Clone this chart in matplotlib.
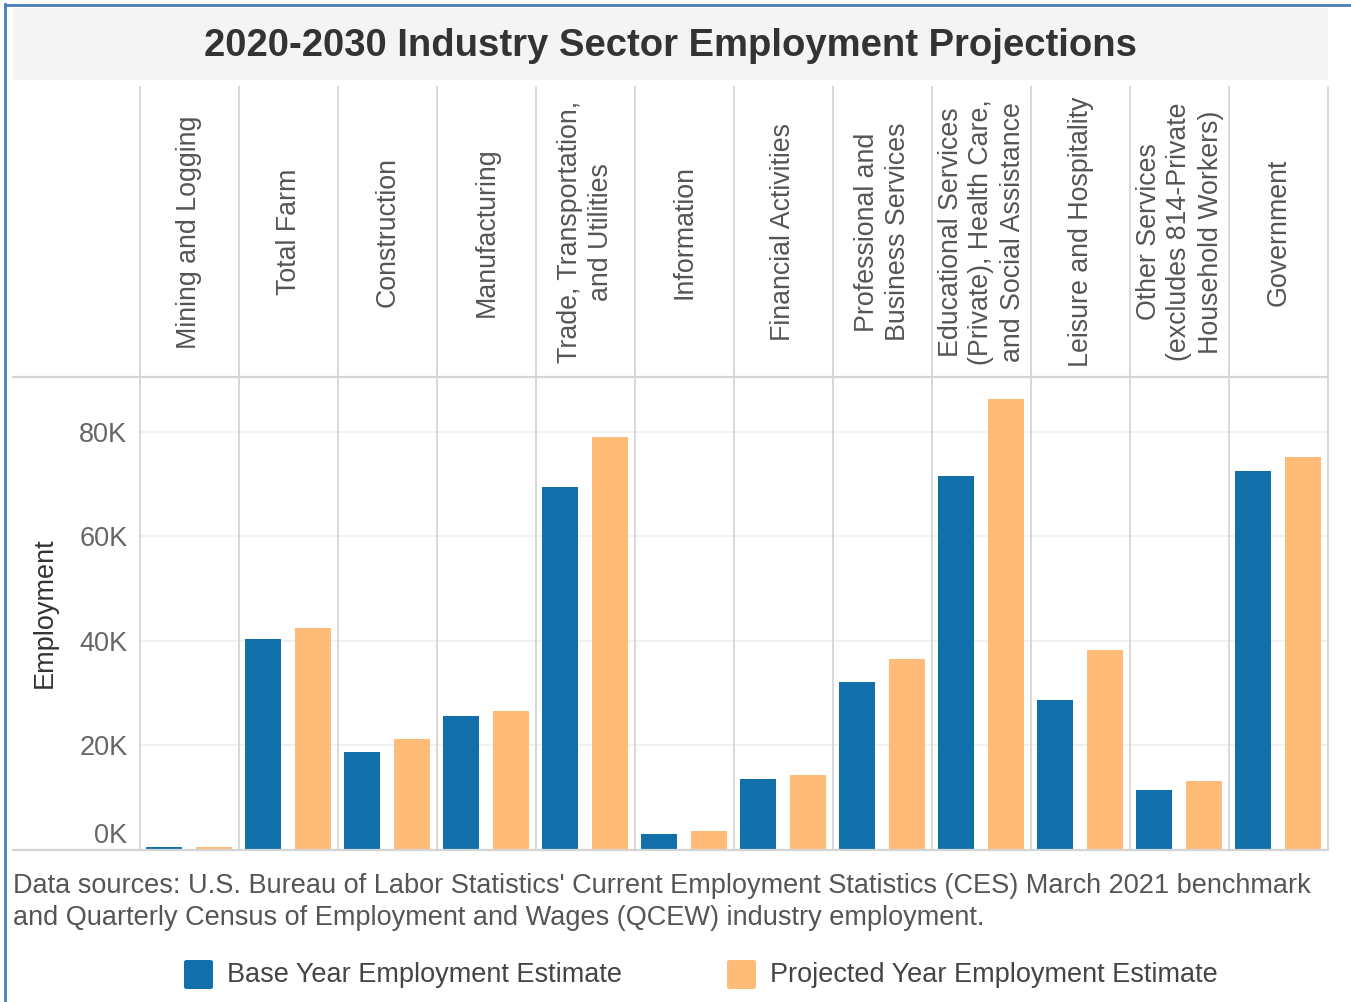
import matplotlib
matplotlib.use("Agg")
import matplotlib.pyplot as plt
from matplotlib.patches import Rectangle, FancyBboxPatch
from matplotlib.lines import Line2D
from matplotlib.transforms import ScaledTranslation

plt.rcParams['font.family'] = ['Liberation Sans', 'DejaVu Sans']

sectors = [
    "Mining and Logging",
    "Total Farm",
    "Construction",
    "Manufacturing",
    "Trade, Transportation,\nand Utilities",
    "Information",
    "Financial Activities",
    "Professional and\nBusiness Services",
    "Educational Services\n(Private), Health Care,\nand Social Assistance",
    "Leisure and Hospitality",
    "Other Services\n(excludes 814-Private\nHousehold Workers)",
    "Government",
]
# employment, thousands
base_year = [0.6, 40.4, 18.8, 25.6, 69.5, 3.1, 13.6, 32.2, 71.6, 28.7, 11.5, 72.5]
projected_year = [0.6, 42.5, 21.2, 26.6, 79.0, 3.6, 14.4, 36.6, 86.3, 38.3, 13.2, 75.2]
y_ticks = [0, 20, 40, 60, 80]
y_tick_labels = ["0K", "20K", "40K", "60K", "80K"]

title = "2020-2030 Industry Sector Employment Projections"
footnote = ("Data sources: U.S. Bureau of Labor Statistics' Current Employment Statistics (CES) March 2021 benchmark\n"
            "and Quarterly Census of Employment and Wages (QCEW) industry employment.")
legend_labels = ["Base Year Employment Estimate", "Projected Year Employment Estimate"]

BLUE = "#1170aa"
ORANGE = "#ffbc79"
RULE = "#d4d4d4"
TEXT = "#555555"

W, H = 1351, 1002
fig = plt.figure(figsize=(W / 100, H / 100), dpi=100)


def fx(px):
    return px / W


def fy(py):
    return 1 - py / H


# outer frame (top and left edges)
fig.add_artist(Line2D([fx(5), fx(5)], [fy(4), 0], color="#4a7ebb", lw=2))
fig.add_artist(Line2D([fx(5), 1], [fy(4.5), fy(4.5)], color="#4a7ebb", lw=2))

# title band
fig.add_artist(Rectangle((fx(13), fy(80)), fx(1328) - fx(13), fy(8) - fy(80),
                         facecolor="#f4f4f4", edgecolor="none"))
fig.text(fx(670), fy(46), title, ha="center", va="center", fontsize=27.5,
         fontweight="bold", color="#333333")

L, R, TOP, BOT, HTOP = 140, 1328, 377, 850, 87
n = len(sectors)

# header row with sector names
hax = fig.add_axes([fx(L), fy(TOP), fx(R) - fx(L), fy(HTOP) - fy(TOP)])
hax.set_xlim(0, n)
hax.set_ylim(0, 1)
hax.axis("off")
for i, name in enumerate(sectors):
    hax.text(i + 0.5, 0.5, name, rotation=90, ha="center", va="center",
             multialignment="center", fontsize=19.3, color=TEXT, linespacing=1.25)

# bar chart
ax = fig.add_axes([fx(L), fy(BOT), fx(R) - fx(L), fy(TOP) - fy(BOT)])
xs = [i + 0.5 for i in range(n)]
ax.bar([x - 0.255 for x in xs], base_year, width=0.365, color=BLUE, zorder=3)
ax.bar([x + 0.245 for x in xs], projected_year, width=0.365, color=ORANGE, zorder=3)
ax.set_xlim(0, n)
ax.set_ylim(0, 90.5)
ax.set_xticks([])
ax.set_yticks(y_ticks)
ax.set_yticklabels(y_tick_labels, fontsize=19.5, color="#666666")
ax.tick_params(axis="y", length=0, pad=9)
ax.yaxis.grid(True, color="#efefef", lw=1.2, zorder=0)
for s in ax.spines.values():
    s.set_visible(False)
# lift the 0K label off the baseline
zero_lbl = ax.get_yticklabels()[0]
zero_lbl.set_transform(zero_lbl.get_transform() + ScaledTranslation(0, 0.17, fig.dpi_scale_trans))

# column separators through header and plot
for i in range(n + 1):
    fig.add_artist(Line2D([fx(L + i * (R - L) / n)] * 2, [fy(BOT), fy(HTOP)], color=RULE, lw=1.3, zorder=5))
fig.add_artist(Line2D([fx(13), fx(R)], [fy(TOP), fy(TOP)], color=RULE, lw=1.6, zorder=5))
fig.add_artist(Line2D([fx(13), fx(R)], [fy(BOT), fy(BOT)], color=RULE, lw=1.6, zorder=5))

fig.text(fx(45), fy(613), "Employment", rotation=90, ha="center", va="center",
         fontsize=19.5, color="#333333")

fig.text(fx(13), fy(902), footnote, ha="left", va="center", fontsize=19.5,
         color=TEXT, linespacing=1.3)

# legend
for (x0, tx), color, label in zip([(184, 227), (727, 770)], [BLUE, ORANGE], legend_labels):
    fig.add_artist(FancyBboxPatch((fx(x0), fy(989)), fx(29), fy(960) - fy(989),
                                  boxstyle="round,pad=0,rounding_size=0.002",
                                  facecolor=color, edgecolor="none"))
    fig.text(fx(tx), fy(975), label, ha="left", va="center", fontsize=19.5, color="#444444")

fig.savefig("out.png", dpi=100)
